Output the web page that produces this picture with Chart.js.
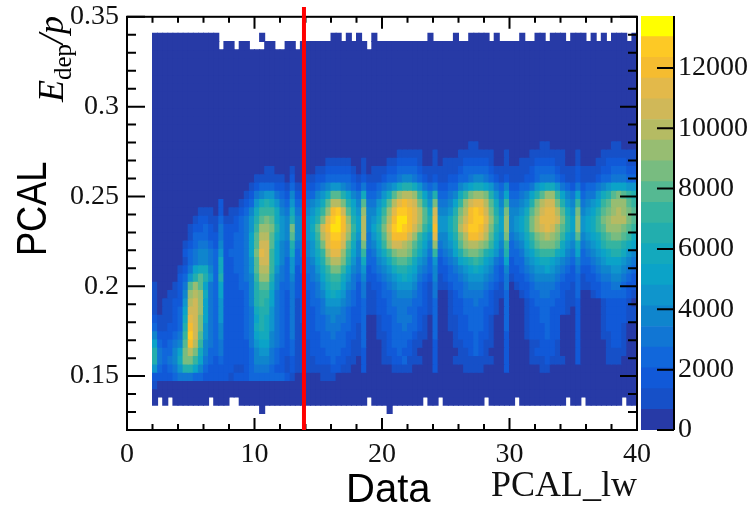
<!DOCTYPE html>
<html><head><meta charset="utf-8">
<script src="https://cdn.jsdelivr.net/npm/chart.js@4"></script>
<style>html,body{margin:0;background:#fff}canvas{position:absolute;left:0;top:0}</style>
</head><body>
<canvas id="main" width="753" height="506"></canvas>
<canvas id="bar" width="753" height="506"></canvas>
<script>
// Heat-map levels, top row (bin 47) to bottom row (bin 2).
// One char per x bin: '.' = empty, 0-9,a-j = colour level. Groups only aid reading.
const rowsTopDown = [
"0000000000000. .......0...... .......00.0.0. .0..........0. ...0..0000.0.. ..0..00.000.00 0.0.0.000.0",
"0000000000000. 00.00...00..00 .0000000000000 .0000000000000 00000000000000 00000000000000 00000000000",
"00000000000000 00000000000000 00000000000000 00000000000000 00000000000000 00000000000000 00000000000",
"00000000000000 00000000000000 00000000000000 00000000000000 00000000000000 00000000000000 00000000000",
"00000000000000 00000000000000 00000000000000 00000000000000 00000000000000 00000000000000 00000000000",
"00000000000000 00000000000000 00000000000000 00000000000000 00000000000000 00000000000000 00000000000",
"00000000000000 00000000000000 00000000000000 00000000000000 00000000000000 00000000000000 00000000000",
"00000000000000 00000000000000 00000000000000 00000000000000 00000000000000 00000000000000 00000000000",
"00000000000000 00000000000000 00000000000000 00000000000000 00000000000000 00000000000000 00000000000",
"00000000000000 00000000000000 00000000000000 00000000000000 00000000000000 00000000000000 00000000000",
"00000000000000 00000000000000 00000000000000 00000000000000 00000000000000 00000000000000 00000000000",
"00000000000000 00000000000000 00000000000000 00000000000000 00000000000000 00000000000000 00000000000",
"00000000000000 00000000000000 00000000000000 00000000000000 00000000000000 00000000000000 00000000000",
"00000000000000 00000000000000 00000000000000 00000000000000 00000011000000 00000011000000 00000011000",
"00000000000000 00000000000000 00000000000000 00000011111001 00001111111001 00001111111001 00001111111",
"00000000000000 00000000000000 00000011111001 00001122221001 01111222221001 00111222211001 00011222211",
"00000000000000 00000000110001 00001122222101 01112233332111 11112333332111 11112333321112 11112233322",
"00000000000000 00000011111102 00112233333212 11123345543212 11223345543212 11122344432112 11123344433",
"00000000000000 00000123332213 11223456654324 22345689986434 22335678876435 22334678864324 23345677766",
"00000000000000 00001245664325 2233568bb97548 33468bdeeda759 33458acddc9647 334579bdda7547 344689bcba9",
"00000000000002 00012368986436 334568beec975b 4468beghgfc96c 4457adfggeb85a 44569ceffc965a 4567abdddba",
"00000000011102 0112358aaa8548 44568adhifb86d 557adgiihgeb8f 5569cehihfc96c 5568bdfggeb86c 5679bcdedcb",
"00000000122113 1123469bcb8659 55679cgijhd97e 568behjjhgeb9g 668adfhiigda7d 5679cegggfc97d 678acdeeecb",
"00000001223214 222346addc965c 5568bfhjjhea7e 579cfijihfda8h 668aegiihfc97d 5679cefgfdb97d 678abdddcba",
"00000001333224 223347beeb865b 5567aegiigd96e 468behhhfda86g 5579cehhgeb86c 4568acdedca76b 5678abccba8",
"00000012344325 223347bffb7549 44569cghhfb85c 457adffedb975d 4568bdeedca75a 34579bcccb8658 45679aaa987",
"00000023455436 233347cgfa7548 34568aeggda75a 3468acddca864a 34579bccb98649 334679aaa87547 34567899865",
"00000013455438 223346bffa7536 334579ceec9648 33568abba86536 2345789a976437 23356788765435 33456777654",
"00000124788538 223346beea6436 234468acca7546 23456899875435 22345678765325 22345667654324 22345566543",
"000002369b9639 222345add95435 2234579aa86435 22345678764325 12334566654324 12234555543223 12234455432",
"1000124bdb7437 2223359bb85334 22334689975424 12234566653214 11233455543214 01223444432213 11223344322",
"1001125ded8437 2222359aa74324 22234578764324 11233455543214 00123444432113 00123344332113 00123333321",
"1011226efd7436 2222359a974324 12233466654323 11223444433213 00122334332103 00012333322112 00001222210",
"1011237ffd7436 22223489964324 12223455543223 11223344332213 00122333322103 00012233222102 00001222211",
"2111238gfc7436 22223479864324 12223345443223 00122344432103 00112233321003 00012233220002 00001222211",
"3112239hfc6435 22223489864324 11223344433213 00122334332103 00112233321003 00012223220002 00001222100",
"522234aifb6435 22223478854324 11222334332213 00112333321103 00012223221002 00012223220002 00001122100",
"732345bhea5434 22222467754323 11122333332113 00012333211002 00011223211002 00001122210002 00000122100",
"943357cec85334 22222356643223 11122233322112 00012232210002 00001123210002 00001222210002 00000111100",
"943458cca74323 22222355543212 11112223221102 00011223111002 00011111111002 00001112111002 00000111000",
"63234699753222 22112344432212 11111112211002 00000111100002 00000111100002 00000011000000 00000000000",
"22223444332222 21222333333321 00000111000000 00000000000000 00000000000000 00000000000000 00000000000",
"10000000000000 00000000000000 00000000000000 00000000000000 00000000000000 00000000000000 00000000000",
"00000000000000 00000000000000 00000000000000 00000000000000 00000000000000 00000000000000 00000000000",
"0.0.0000000.00 0..00000000000 00000000000000 .0000000000.00 .00000000.0000 0.000000000.00 .0000000.00",
".............. .......0...... .............. ....0......... .............. .............. ..........."
];
const topRowBin = 47;
const firstColumnBin = 5;
const xBinWidth = 0.4;
const yBinStart = 0.12;
const yBinHeight = 0.0046;
const xRange = [0, 40];
const yRange = [0.12, 0.35];
const xTickValues = [0, 10, 20, 30, 40];
const xMinorValues = [2,4,6,8,12,14,16,18,22,24,26,28,32,34,36,38];
const yTickValues = [0.15, 0.2, 0.25, 0.3, 0.35];
const yMinorValues = [0.12,0.13,0.14,0.16,0.17,0.18,0.19,0.21,0.22,0.23,0.24,0.26,0.27,0.28,0.29,0.31,0.32,0.33,0.34];
const thresholdX = 13.88;
const zTickValues = [0, 2000, 4000, 6000, 8000, 10000, 12000];
const zLevelStep = 686;
const levelColors = ["#273aa6","#1650c8","#1159d8","#1167db","#1176d4","#0f85cd","#0f95cc","#0ba3c8","#13a9bd","#22aeae",
  "#35b4a0","#55b992","#78bc80","#97bd72","#b5bb63","#d0b858","#e3b94a","#f5bc30","#fdc925","#ffe010"];
const colorbarColors = levelColors.slice(0, 19).concat(["#ffff00"]);
const inkColor = "#111";
const serif = '"Liberation Serif", serif';

const datasets = rowsTopDown.map((row, r) => {
  const bin = topRowBin - r, chars = row.replace(/ /g, "").split("");
  const data = [], backgroundColor = [];
  chars.forEach((ch, c) => {
    if (ch === ".") return;
    data.push({ x: (firstColumnBin + c + 0.5) * xBinWidth, y: [yBinStart + bin * yBinHeight, yBinStart + (bin + 1) * yBinHeight] });
    backgroundColor.push(levelColors[parseInt(ch, 20)]);
  });
  return { type: "bar", data, backgroundColor, borderWidth: 0, inflateAmount: 0.5, grouped: false, barPercentage: 1, categoryPercentage: 1, order: 1 };
});
const redIndex = datasets.length;
datasets.push({ type: "line", data: [{ x: thresholdX, y: yRange[0] }, { x: thresholdX, y: 0.3555 }], borderColor: "#ff0000", borderWidth: 4, pointRadius: 0, clip: false, order: 0 });

function tick(ctx, x1, y1, x2, y2) { ctx.moveTo(x1, y1); ctx.lineTo(x2, y2); }

const framePlugin = {
  id: "frame",
  beforeDatasetDraw(chart, args) {
    if (args.index !== redIndex) return;
    const { ctx, chartArea: a, scales: { x, y } } = chart;
    ctx.save();
    ctx.strokeStyle = "#000";
    ctx.lineWidth = 2;
    ctx.strokeRect(a.left, a.top, a.right - a.left, a.bottom - a.top);
    ctx.beginPath();
    xTickValues.forEach(v => { const p = x.getPixelForValue(v); tick(ctx, p, a.bottom, p, a.bottom - 12); tick(ctx, p, a.top, p, a.top + 12); });
    xMinorValues.forEach(v => { const p = x.getPixelForValue(v); tick(ctx, p, a.bottom, p, a.bottom - 6); tick(ctx, p, a.top, p, a.top + 6); });
    yTickValues.forEach(v => { const p = y.getPixelForValue(v); tick(ctx, a.left, p, a.left + 18, p); tick(ctx, a.right, p, a.right - 17, p); });
    yMinorValues.forEach(v => { const p = y.getPixelForValue(v); tick(ctx, a.left, p, a.left + 9, p); tick(ctx, a.right, p, a.right - 9, p); });
    ctx.stroke();
    ctx.restore();
  },
  afterDraw(chart) {
    const ctx = chart.ctx;
    ctx.save();
    ctx.fillStyle = "#000";
    // rotated y label with subscript
    ctx.translate(63, 102);
    ctx.rotate(-Math.PI / 2);
    ctx.textBaseline = "alphabetic";
    ctx.textAlign = "left";
    ctx.font = "italic 36px " + serif;
    ctx.fillText("E", 0, 0);
    let w = ctx.measureText("E").width;
    ctx.font = "25px " + serif;
    ctx.fillText("dep", w, 8);
    w += ctx.measureText("dep").width;
    ctx.font = "italic 36px " + serif;
    ctx.fillText("/p", w, 0);
    ctx.restore();
    ctx.save();
    ctx.fillStyle = "#000";
    ctx.translate(46, 256);
    ctx.rotate(-Math.PI / 2);
    ctx.scale(0.86, 1);
    ctx.textAlign = "left";
    ctx.textBaseline = "alphabetic";
    ctx.font = '42px "Liberation Sans", sans-serif';
    ctx.fillText("PCAL", 0, 0);
    ctx.restore();
    ctx.save();
    ctx.fillStyle = "#000";
    ctx.textAlign = "left";
    ctx.textBaseline = "alphabetic";
    ctx.font = '40px "Liberation Sans", sans-serif';
    ctx.fillText("Data", 346, 502);
    ctx.restore();
  }
};

new Chart(document.getElementById("main"), {
  type: "bar",
  data: { datasets },
  plugins: [framePlugin],
  options: {
    responsive: false, animation: false, parsing: true,
    layout: { autoPadding: false, padding: { left: 0, top: 16, right: 116, bottom: 0 } },
    plugins: { legend: { display: false }, tooltip: { enabled: false } },
    scales: {
      x: {
        type: "linear", offset: false, min: xRange[0], max: xRange[1],
        grid: { display: false, offset: false }, border: { display: false },
        afterBuildTicks: s => { s.ticks = xTickValues.map(value => ({ value })); },
        afterFit: s => { s.height = 76; },
        ticks: { color: inkColor, font: { family: serif, size: 28 }, padding: 0, maxRotation: 0, autoSkip: false },
        title: { display: true, text: "PCAL_lw", align: "end", color: inkColor, font: { family: serif, size: 36 }, padding: { top: 0, bottom: -2 } }
      },
      y: {
        type: "linear", min: yRange[0], max: yRange[1],
        grid: { display: false }, border: { display: false },
        afterBuildTicks: s => { s.ticks = yTickValues.map(value => ({ value })); },
        afterFit: s => { s.width = 127; },
        ticks: { color: inkColor, font: { family: serif, size: 28 }, padding: 0, autoSkip: false, callback: v => String(v) }
      }
    }
  }
});

// Colour bar: one floating bar per palette level
const barPlugin = {
  id: "barTicks",
  afterDatasetsDraw(chart) {
    const { ctx, chartArea: a, scales: { y } } = chart;
    ctx.save();
    ctx.strokeStyle = "#000";
    ctx.lineWidth = 2;
    ctx.beginPath();
    tick(ctx, a.right, a.top, a.right, a.bottom);
    zTickValues.forEach(v => { const p = y.getPixelForValue(v); tick(ctx, a.right, p, a.right - 17, p); });
    ctx.stroke();
    ctx.restore();
  }
};
new Chart(document.getElementById("bar"), {
  type: "bar",
  data: {
    labels: ["z"],
    datasets: colorbarColors.map((c, i) => ({
      data: [[i * zLevelStep, (i + 1) * zLevelStep]], backgroundColor: c, borderWidth: 0, grouped: false,
      barPercentage: 1, categoryPercentage: 1
    }))
  },
  plugins: [barPlugin],
  options: {
    responsive: false, animation: false,
    layout: { autoPadding: false, padding: { left: 641, top: 16, right: 0, bottom: 76 } },
    plugins: { legend: { display: false }, tooltip: { enabled: false } },
    scales: {
      x: { display: false },
      y: {
        position: "right", min: 0, max: 20 * zLevelStep,
        grid: { display: false }, border: { display: false },
        afterBuildTicks: s => { s.ticks = zTickValues.map(value => ({ value })); },
        afterFit: s => { s.width = 79; },
        ticks: { color: inkColor, font: { family: serif, size: 28 }, padding: -4, autoSkip: false, callback: v => String(v) }
      }
    }
  }
});
</script>
</body></html>
